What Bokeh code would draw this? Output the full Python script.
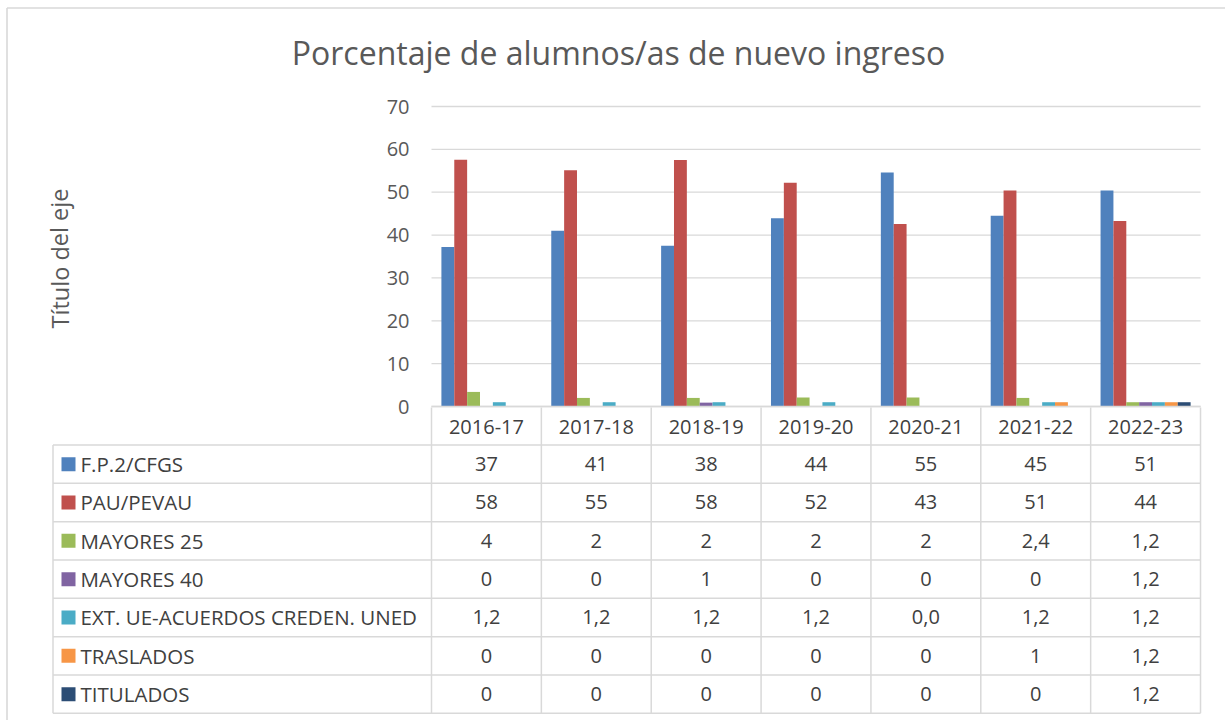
from bokeh.plotting import figure
from bokeh.models import Range1d
from bokeh.core.properties import value
from bokeh.embed import file_html
from bokeh.resources import INLINE

# ---------------- data ----------------
title = "Porcentaje de alumnos/as de nuevo ingreso"
y_title = "Título del eje"
years = ["2016-17", "2017-18", "2018-19", "2019-20", "2020-21", "2021-22", "2022-23"]
series_names = ["F.P.2/CFGS", "PAU/PEVAU", "MAYORES 25", "MAYORES 40",
                "EXT. UE-ACUERDOS CREDEN. UNED", "TRASLADOS", "TITULADOS"]
colors = ["#4F81BD", "#C0504D", "#9BBB59", "#8064A2", "#4BACC6", "#F79646", "#2C4D75"]

fp2 = [37.2, 41.0, 37.5, 43.9, 54.6, 44.5, 50.4]
pau = [57.6, 55.1, 57.5, 52.2, 42.6, 50.4, 43.3]
may25 = [3.4, 2.0, 2.0, 2.1, 2.1, 2.0, 1.0]
may40 = [0, 0, 0.9, 0, 0, 0, 1.0]
ext = [1.0, 1.0, 1.0, 1.0, 0, 1.0, 1.0]
tras = [0, 0, 0, 0, 0, 1.0, 1.0]
tit = [0, 0, 0, 0, 0, 0, 1.0]
series_values = [fp2, pau, may25, may40, ext, tras, tit]

# data-table labels as printed
fp2_lbl = ["37", "41", "38", "44", "55", "45", "51"]
pau_lbl = ["58", "55", "58", "52", "43", "51", "44"]
may25_lbl = ["4", "2", "2", "2", "2", "2,4", "1,2"]
may40_lbl = ["0", "0", "1", "0", "0", "0", "1,2"]
ext_lbl = ["1,2", "1,2", "1,2", "1,2", "0,0", "1,2", "1,2"]
tras_lbl = ["0", "0", "0", "0", "0", "1", "1,2"]
tit_lbl = ["0", "0", "0", "0", "0", "0", "1,2"]
table_labels = [fp2_lbl, pau_lbl, may25_lbl, may40_lbl, ext_lbl, tras_lbl, tit_lbl]

y_ticks = [0, 10, 20, 30, 40, 50, 60, 70]

# ---------------- layout (pixel geometry) ----------------
W, H = 1225, 720
PX0 = 431.0          # pixel x of category 0 left edge
SX = 109.86          # pixels per category
PY0 = 406.0          # pixel y of value 0
SY = 300.0 / 70.0    # pixels per unit


def X(px):
    return (px - PX0) / SX


def Y(py):
    return (PY0 - py) / SY


p = figure(width=W, height=H, output_backend="svg", toolbar_location=None,
           x_axis_location=None, y_axis_location=None, min_border=0,
           x_range=Range1d(X(0), X(W)), y_range=Range1d(Y(H), Y(0)))
p.outline_line_color = None
p.xgrid.visible = False
p.ygrid.visible = False
p.background_fill_color = "white"
p.border_fill_color = "white"

GRID = "#d9d9d9"
FONT = "Open Sans"
TXT = "20px"
n_cat = len(years)
n_ser = len(series_names)

# outer border
p.segment(x0=[X(6.5), X(6.5)], y0=[Y(7.5), Y(7.5)], x1=[X(W + 5), X(6.5)], y1=[Y(7.5), Y(H + 5)],
          line_color=GRID, line_width=1.6)

# horizontal gridlines
p.segment(x0=[0] * len(y_ticks), x1=[n_cat] * len(y_ticks), y0=y_ticks, y1=y_ticks,
          line_color=GRID, line_width=1.3)

# y tick labels
p.text(x=[X(409)] * len(y_ticks), y=y_ticks, text=[str(t) for t in y_ticks],
       text_font=value(FONT), text_font_size=TXT, text_color="#595959",
       text_align="right", text_baseline="middle")

# bars
gap = 1.54
bw = 1.0 / (n_ser + gap)
for j, (vals, col) in enumerate(zip(series_values, colors)):
    xs = [i + 0.5 + (j - (n_ser - 1) / 2) * bw for i in range(n_cat)]
    p.vbar(x=xs, top=vals, bottom=0, width=bw, fill_color=col, line_color=None)

# ---------------- data table ----------------
row_top = 444.5
row_h = 38.33
header_top = 407.0
table_left = 52.5
row_edges = [row_top + k * row_h for k in range(n_ser + 1)]
table_bottom = row_edges[-1]

# horizontal lines
p.segment(x0=[X(table_left)] * len(row_edges), x1=[n_cat] * len(row_edges),
          y0=[Y(r) for r in row_edges], y1=[Y(r) for r in row_edges],
          line_color=GRID, line_width=1.5)
# axis line / header top
p.segment(x0=[0], x1=[n_cat], y0=[0], y1=[0], line_color=GRID, line_width=1.5)
# vertical lines
p.segment(x0=list(range(n_cat + 1)), x1=list(range(n_cat + 1)),
          y0=[Y(header_top)] * (n_cat + 1), y1=[Y(table_bottom)] * (n_cat + 1),
          line_color=GRID, line_width=1.5)
p.segment(x0=[X(table_left)], x1=[X(table_left)], y0=[Y(row_top)], y1=[Y(table_bottom)],
          line_color=GRID, line_width=1.5)

# header category labels
p.text(x=[i + 0.5 for i in range(n_cat)], y=[Y((header_top + row_top) / 2 + 1)] * n_cat, text=years,
       text_font=value(FONT), text_font_size=TXT, text_color="#404040",
       text_align="center", text_baseline="middle")

# rows
for j in range(n_ser):
    cy = Y(row_edges[j] + row_h / 2)
    p.rect(x=[X(68)], y=[cy], width=14, height=14, width_units="screen", height_units="screen",
           fill_color=colors[j], line_color=None)
    p.text(x=[X(80)], y=[cy], text=[series_names[j]], text_font=value(FONT),
           text_font_size="20.5px", text_color="#404040", text_align="left", text_baseline="middle")
    p.text(x=[i + 0.5 for i in range(n_cat)], y=[cy] * n_cat, text=table_labels[j],
           text_font=value(FONT), text_font_size=TXT, text_color="#404040",
           text_align="center", text_baseline="middle")

# titles
p.text(x=[X(618)], y=[Y(52)], text=[title], text_font=value(FONT), text_font_size="32px",
       text_color="#595959", text_align="center", text_baseline="middle")
p.text(x=[X(59)], y=[Y(258)], text=[y_title], text_font=value(FONT), text_font_size="23.5px",
       text_color="#595959", text_align="center", text_baseline="middle", angle=1.5708)

open("out.html", "w").write(file_html(p, INLINE))
